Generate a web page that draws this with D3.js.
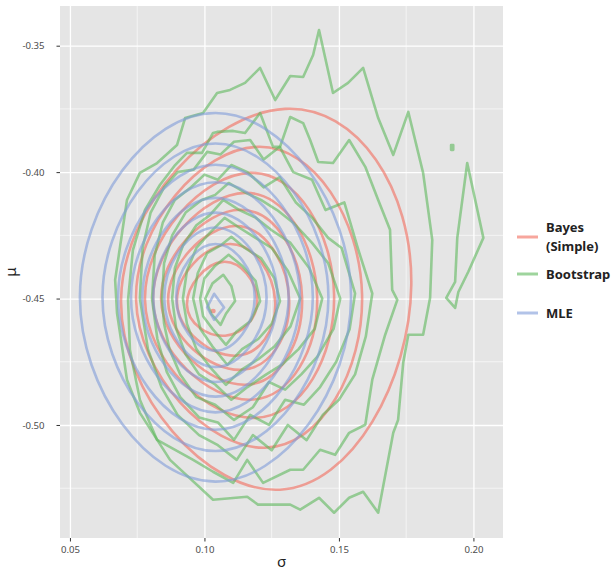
<!DOCTYPE html>
<html>
<head>
<meta charset="utf-8">
<script src="https://cdn.jsdelivr.net/npm/d3@7"></script>
<style>
  body { margin: 0; background: #fff; }
  svg { display: block; font-family: "Noto Sans", "Open Sans", sans-serif; }
</style>
</head>
<body>
<svg width="614" height="571"></svg>
<script>
// axis ticks
const xTicks = [0.05, 0.10, 0.15, 0.20];
const xMinor = [0.075, 0.125, 0.175];
const yTicks = [-0.35, -0.40, -0.45, -0.50];
const yMinor = [-0.375, -0.425, -0.475, -0.525];

const seriesNames = ["Bayes (Simple)", "Bootstrap", "MLE"];
const seriesColors = ["#F26B5B", "#5DB85B", "#7E9BD8"];

// contour rings, [sigma, mu] points, outermost first
const bayesRings = [
  [[0.0690, -0.4505], [0.1300, -0.3750], [0.1769, -0.4446], [0.1281, -0.5256]],
  [[0.0746, -0.4505], [0.1199, -0.3900], [0.1586, -0.4485], [0.1225, -0.5090]],
  [[0.0779, -0.4505], [0.1170, -0.4003], [0.1482, -0.4485], [0.1188, -0.4972]],
  [[0.0809, -0.4505], [0.1151, -0.4082], [0.1419, -0.4493], [0.1170, -0.4900]],
  [[0.0839, -0.4505], [0.1133, -0.4149], [0.1363, -0.4497], [0.1151, -0.4841]],
  [[0.0865, -0.4513], [0.1114, -0.4213], [0.1315, -0.4505], [0.1133, -0.4782]],
  [[0.0898, -0.4517], [0.1095, -0.4284], [0.1263, -0.4513], [0.1114, -0.4726]],
  [[0.0935, -0.4525], [0.1069, -0.4355], [0.1196, -0.4505], [0.1077, -0.4647]],
  [[0.1027, -0.4549], [0.1032, -0.4545], [0.1037, -0.4549], [0.1032, -0.4553]]
];

const bootRings = [
  [[0.0995, -0.3766], [0.1047, -0.3687], [0.1095, -0.3675], [0.1151, -0.3647], [0.1207, -0.3588],
   [0.1263, -0.3715], [0.1319, -0.3620], [0.1367, -0.3624], [0.1404, -0.3537], [0.1426, -0.3438],
   [0.1478, -0.3687], [0.1534, -0.3647], [0.1590, -0.3588], [0.1646, -0.3786], [0.1702, -0.3932],
   [0.1758, -0.3762], [0.1813, -0.4003], [0.1847, -0.4268], [0.1839, -0.4497], [0.1813, -0.4643],
   [0.1758, -0.4643], [0.1739, -0.4754], [0.1720, -0.4980], [0.1702, -0.5031], [0.1646, -0.5347],
   [0.1590, -0.5264], [0.1538, -0.5288], [0.1482, -0.5347], [0.1426, -0.5288], [0.1356, -0.5335],
   [0.1319, -0.5315], [0.1199, -0.5315], [0.1159, -0.5284], [0.1032, -0.5296], [0.0872, -0.5138],
   [0.0760, -0.4952], [0.0712, -0.4821], [0.0675, -0.4557], [0.0668, -0.4426], [0.0712, -0.4110],
   [0.0760, -0.4003], [0.0824, -0.3964], [0.0898, -0.3893], [0.0928, -0.3786]],
  [[0.1977, -0.3964], [0.2037, -0.4260], [0.1981, -0.4394], [0.1944, -0.4474], [0.1932, -0.4537],
   [0.1899, -0.4497], [0.1932, -0.4434], [0.1940, -0.4260]],
  [[0.1917, -0.3893], [0.1925, -0.3893], [0.1925, -0.3912], [0.1917, -0.3912]],
  [[0.0935, -0.3924], [0.0991, -0.3924], [0.1032, -0.3845], [0.1047, -0.3841], [0.1107, -0.3837],
   [0.1151, -0.3845], [0.1207, -0.3766], [0.1255, -0.3900], [0.1281, -0.3900], [0.1319, -0.3782],
   [0.1367, -0.3806], [0.1393, -0.3873], [0.1423, -0.3960], [0.1478, -0.3964], [0.1538, -0.3873],
   [0.1598, -0.3979], [0.1646, -0.4110], [0.1690, -0.4228], [0.1698, -0.4466], [0.1717, -0.4505],
   [0.1672, -0.4643], [0.1624, -0.4821], [0.1598, -0.4999], [0.1538, -0.5031], [0.1486, -0.5118],
   [0.1430, -0.5098], [0.1367, -0.5177], [0.1319, -0.5177], [0.1218, -0.5229], [0.1159, -0.5138],
   [0.1107, -0.5229], [0.1032, -0.5185], [0.0958, -0.5138], [0.0824, -0.5059], [0.0760, -0.4900],
   [0.0723, -0.4703], [0.0716, -0.4505], [0.0734, -0.4308], [0.0779, -0.4149], [0.0835, -0.4050],
   [0.0891, -0.3972]],
  [[0.0760, -0.4500], [0.0770, -0.4300], [0.0800, -0.4160], [0.0850, -0.4060], [0.0900, -0.4000],
   [0.0960, -0.3990], [0.1010, -0.3920], [0.1060, -0.3930], [0.1110, -0.3880], [0.1170, -0.3873],
   [0.1220, -0.3950], [0.1280, -0.3900], [0.1330, -0.4000], [0.1400, -0.4030], [0.1450, -0.4150],
   [0.1520, -0.4120], [0.1570, -0.4300], [0.1624, -0.4480], [0.1600, -0.4650], [0.1560, -0.4800],
   [0.1500, -0.4900], [0.1440, -0.4960], [0.1380, -0.5060], [0.1310, -0.5000], [0.1250, -0.5100],
   [0.1180, -0.5040], [0.1120, -0.5138], [0.1050, -0.5080], [0.0980, -0.5040], [0.0900, -0.4960],
   [0.0840, -0.4850], [0.0790, -0.4700]],
  [[0.0805, -0.4500], [0.0815, -0.4330], [0.0845, -0.4200], [0.0890, -0.4110], [0.0950, -0.4060],
   [0.1000, -0.4010], [0.1050, -0.4030], [0.1100, -0.3972], [0.1160, -0.4000], [0.1220, -0.4060],
   [0.1280, -0.4020], [0.1340, -0.4120], [0.1400, -0.4180], [0.1460, -0.4260], [0.1510, -0.4300],
   [0.1560, -0.4480], [0.1540, -0.4620], [0.1490, -0.4750], [0.1430, -0.4850], [0.1370, -0.4920],
   [0.1300, -0.4900], [0.1240, -0.5000], [0.1170, -0.4960], [0.1110, -0.5059], [0.1050, -0.4990],
   [0.0980, -0.4970], [0.0910, -0.4890], [0.0860, -0.4790], [0.0825, -0.4660]],
  [[0.0842, -0.4500], [0.0850, -0.4360], [0.0880, -0.4250], [0.0930, -0.4160], [0.0990, -0.4110],
   [0.1040, -0.4090], [0.1090, -0.4043], [0.1150, -0.4080], [0.1210, -0.4110], [0.1270, -0.4150],
   [0.1330, -0.4200], [0.1400, -0.4280], [0.1460, -0.4360], [0.1505, -0.4500], [0.1480, -0.4620],
   [0.1420, -0.4730], [0.1360, -0.4800], [0.1300, -0.4860], [0.1240, -0.4830], [0.1180, -0.4930],
   [0.1110, -0.4980], [0.1040, -0.4920], [0.0970, -0.4890], [0.0910, -0.4800], [0.0870, -0.4700],
   [0.0850, -0.4600]],
  [[0.0880, -0.4500], [0.0890, -0.4380], [0.0920, -0.4290], [0.0970, -0.4210], [0.1020, -0.4170],
   [0.1070, -0.4110], [0.1130, -0.4150], [0.1190, -0.4180], [0.1250, -0.4230], [0.1320, -0.4280],
   [0.1390, -0.4380], [0.1438, -0.4500], [0.1410, -0.4620], [0.1350, -0.4700], [0.1290, -0.4760],
   [0.1230, -0.4800], [0.1160, -0.4850], [0.1100, -0.4900], [0.1040, -0.4840], [0.0980, -0.4800],
   [0.0930, -0.4720], [0.0895, -0.4620]],
  [[0.0920, -0.4500], [0.0935, -0.4390], [0.0970, -0.4300], [0.1020, -0.4240], [0.1075, -0.4181],
   [0.1130, -0.4220], [0.1190, -0.4260], [0.1250, -0.4300], [0.1310, -0.4390], [0.1356, -0.4500],
   [0.1320, -0.4610], [0.1260, -0.4690], [0.1200, -0.4740], [0.1140, -0.4780], [0.1080, -0.4841],
   [0.1020, -0.4770], [0.0970, -0.4700], [0.0935, -0.4600]],
  [[0.0958, -0.4500], [0.0975, -0.4400], [0.1010, -0.4320], [0.1060, -0.4290], [0.1100, -0.4256],
   [0.1150, -0.4300], [0.1210, -0.4340], [0.1260, -0.4420], [0.1281, -0.4510], [0.1250, -0.4600],
   [0.1200, -0.4660], [0.1140, -0.4700], [0.1085, -0.4762], [0.1030, -0.4690], [0.0985, -0.4620]],
  [[0.0984, -0.4500], [0.1000, -0.4420], [0.1040, -0.4370], [0.1090, -0.4327], [0.1140, -0.4370],
   [0.1190, -0.4430], [0.1207, -0.4510], [0.1170, -0.4590], [0.1120, -0.4630], [0.1080, -0.4683],
   [0.1030, -0.4620], [0.0995, -0.4570]],
  [[0.1003, -0.4500], [0.1030, -0.4440], [0.1070, -0.4406], [0.1100, -0.4450], [0.1114, -0.4510],
   [0.1080, -0.4560], [0.1060, -0.4604], [0.1025, -0.4560]]
];

const mleRings = [
  [[0.0537, -0.4495], [0.1041, -0.3766], [0.1545, -0.4495], [0.1041, -0.5224]],
  [[0.0621, -0.4495], [0.1041, -0.3887], [0.1461, -0.4495], [0.1041, -0.5103]],
  [[0.0679, -0.4495], [0.1041, -0.3971], [0.1403, -0.4495], [0.1041, -0.5019]],
  [[0.0727, -0.4495], [0.1041, -0.4040], [0.1355, -0.4495], [0.1041, -0.4950]],
  [[0.0769, -0.4495], [0.1041, -0.4102], [0.1313, -0.4495], [0.1041, -0.4888]],
  [[0.0810, -0.4495], [0.1041, -0.4160], [0.1272, -0.4495], [0.1041, -0.4830]],
  [[0.0851, -0.4495], [0.1041, -0.4219], [0.1231, -0.4495], [0.1041, -0.4771]],
  [[0.0895, -0.4495], [0.1041, -0.4284], [0.1187, -0.4495], [0.1041, -0.4706]],
  [[0.1010, -0.4535], [0.1036, -0.4481], [0.1073, -0.4535], [0.1036, -0.4584]]
];

const svg = d3.select("svg");
const panel = {left: 60, top: 6, right: 503, bottom: 538};

const x = d3.scaleLinear().domain([0.0463, 0.2110]).range([panel.left, panel.right]);
const y = d3.scaleLinear().domain([-0.5447, -0.3343]).range([panel.bottom, panel.top]);
const fmt = d => d.toFixed(2);

svg.append("rect")
    .attr("x", panel.left).attr("y", panel.top)
    .attr("width", panel.right - panel.left).attr("height", panel.bottom - panel.top)
    .attr("fill", "#E5E5E5");

svg.append("clipPath").attr("id", "clip")
    .append("rect")
    .attr("x", panel.left).attr("y", panel.top)
    .attr("width", panel.right - panel.left).attr("height", panel.bottom - panel.top);

// grid
let grid = svg.append("g");
grid.selectAll(".vminor").data(xMinor).join("line")
    .attr("x1", d => x(d)).attr("x2", d => x(d))
    .attr("y1", panel.top).attr("y2", panel.bottom)
    .attr("stroke", "#fff").attr("stroke-width", 0.6);
grid.selectAll(".hminor").data(yMinor).join("line")
    .attr("y1", d => y(d)).attr("y2", d => y(d))
    .attr("x1", panel.left).attr("x2", panel.right)
    .attr("stroke", "#fff").attr("stroke-width", 0.6);
svg.append("g")
    .attr("transform", `translate(0,${panel.top})`)
    .call(d3.axisBottom(x).tickValues(xTicks).tickSize(panel.bottom - panel.top).tickFormat(""))
    .call(g => g.select(".domain").remove())
    .call(g => g.selectAll("line").attr("stroke", "#fff").attr("stroke-width", 1.3));
svg.append("g")
    .attr("transform", `translate(${panel.right},0)`)
    .call(d3.axisLeft(y).tickValues(yTicks).tickSize(panel.right - panel.left).tickFormat(""))
    .call(g => g.select(".domain").remove())
    .call(g => g.selectAll("line").attr("stroke", "#fff").attr("stroke-width", 1.3));

// axes
let xAxis = svg.append("g")
    .attr("transform", `translate(0,${panel.bottom})`)
    .call(d3.axisBottom(x).tickValues(xTicks).tickSize(3.5).tickPadding(5).tickFormat(fmt));
xAxis.select(".domain").remove();
xAxis.selectAll("line").attr("stroke", "#333");
xAxis.selectAll("text").attr("fill", "#4D4D4D").attr("font-size", 9.6).attr("font-family", "Noto Sans");

let yAxis = svg.append("g")
    .attr("transform", `translate(${panel.left},0)`)
    .call(d3.axisLeft(y).tickValues(yTicks).tickSize(3.5).tickPadding(12).tickFormat(fmt));
yAxis.select(".domain").remove();
yAxis.selectAll("line").attr("stroke", "#333");
yAxis.selectAll("text").attr("fill", "#4D4D4D").attr("font-size", 9.6).attr("font-family", "Noto Sans");

svg.append("text")
    .attr("x", (panel.left + panel.right) / 2).attr("y", 567)
    .attr("text-anchor", "middle").attr("font-size", 15).attr("fill", "#222")
    .text("σ");
svg.append("text")
    .attr("transform", `translate(16,${(panel.top + panel.bottom) / 2}) rotate(-90)`)
    .attr("text-anchor", "middle").attr("font-size", 15).attr("fill", "#222")
    .text("μ");

// contours
const smooth = d3.line().x(d => x(d[0])).y(d => y(d[1])).curve(d3.curveCardinalClosed.tension(-0.5));
const jagged = d3.line().x(d => x(d[0])).y(d => y(d[1])).curve(d3.curveLinearClosed);

let plot = svg.append("g").attr("clip-path", "url(#clip)")
    .attr("fill", "none").attr("stroke-width", 2.6)
    .attr("stroke-linejoin", "round").attr("stroke-opacity", 0.6);

plot.append("g").attr("stroke", seriesColors[0])
    .selectAll("path").data(bayesRings).join("path").attr("d", smooth);
plot.append("g").attr("stroke", seriesColors[1])
    .selectAll("path").data(bootRings).join("path").attr("d", jagged);
// innermost MLE ring is a small diamond
plot.append("g").attr("stroke", seriesColors[2])
    .selectAll("path").data(mleRings).join("path")
    .attr("d", (d, i) => i === mleRings.length - 1 ? jagged(d) : smooth(d));

// legend
const legendRows = [
    {lines: ["Bayes", "(Simple)"], color: seriesColors[0], ky: 237},
    {lines: ["Bootstrap"], color: seriesColors[1], ky: 274},
    {lines: ["MLE"], color: seriesColors[2], ky: 313}
];
let legend = svg.append("g");
legendRows.forEach(r => {
    legend.append("line")
        .attr("x1", 517).attr("x2", 538).attr("y1", r.ky).attr("y2", r.ky)
        .attr("stroke", r.color).attr("stroke-width", 3).attr("stroke-opacity", 0.6);
    let t = legend.append("text")
        .attr("x", 546).attr("y", r.ky - (r.lines.length - 1) * 10 + 4.5)
        .attr("font-size", 13).attr("font-weight", "bold").attr("fill", "#222");
    r.lines.forEach((s, i) => {
        t.append("tspan").attr("x", 546).attr("dy", i ? 19.5 : 0).text(s);
    });
});
</script>
</body>
</html>
